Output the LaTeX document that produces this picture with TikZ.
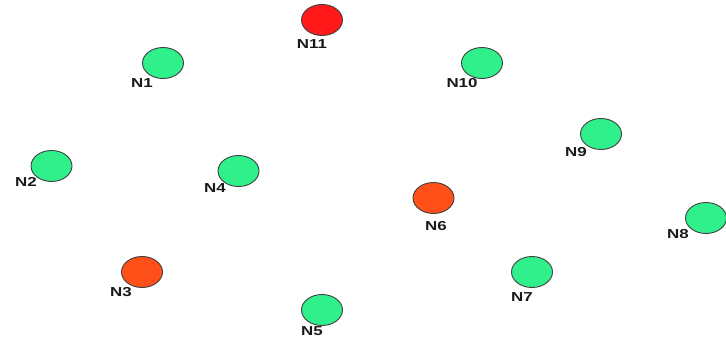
\documentclass[tikz,border=0pt]{standalone}
\usepackage{fontspec}
\usepackage{graphicx}
\setmainfont{Liberation Sans}
\usetikzlibrary{shapes.geometric}
\newcommand\nlabtxt[1]{\scalebox{1.3}[1]{#1}}
\begin{document}
\begin{tikzpicture}[x=1pt,y=-1pt,
  nd/.style={ellipse,draw=black!75,line width=0.9pt,minimum width=41pt,minimum height=31pt,inner sep=0pt},
  ok/.style={nd,fill=okgreen},
  hot/.style={nd,fill=hotorange},
  crit/.style={nd,fill=critred},
  lbl/.style={font=\fontsize{13}{14}\selectfont\bfseries,text=black!90,inner sep=0pt}]
\definecolor{okgreen}{RGB}{48,240,140}
\definecolor{hotorange}{RGB}{255,80,25}
\definecolor{critred}{RGB}{255,25,25}
\useasboundingbox (0,0) rectangle (726,337);
\node[crit] (N11) at (322,20) {};
\node[ok] (N1) at (163,63) {};
\node[ok] (N10) at (482,63) {};
\node[ok] (N9) at (601,134) {};
\node[ok] (N2) at (51.5,166) {};
\node[ok] (N4) at (238.5,171) {};
\node[hot] (N6) at (433.5,198) {};
\node[ok] (N8) at (706,218) {};
\node[hot] (N3) at (142,272) {};
\node[ok] (N7) at (532,272) {};
\node[ok] (N5) at (322,310) {};
\node[lbl] (lN11) at (312,44) {\nlabtxt{N11}};
\node[lbl] (lN1) at (142,83) {\nlabtxt{N1}};
\node[lbl] (lN10) at (462,83) {\nlabtxt{N10}};
\node[lbl] (lN9) at (576,152) {\nlabtxt{N9}};
\node[lbl] (lN2) at (26,182) {\nlabtxt{N2}};
\node[lbl] (lN4) at (215,188) {\nlabtxt{N4}};
\node[lbl] (lN6) at (436,226) {\nlabtxt{N6}};
\node[lbl] (lN8) at (678,234) {\nlabtxt{N8}};
\node[lbl] (lN3) at (121,292) {\nlabtxt{N3}};
\node[lbl] (lN7) at (522,297) {\nlabtxt{N7}};
\node[lbl] (lN5) at (312,331) {\nlabtxt{N5}};
\end{tikzpicture}
\end{document}
